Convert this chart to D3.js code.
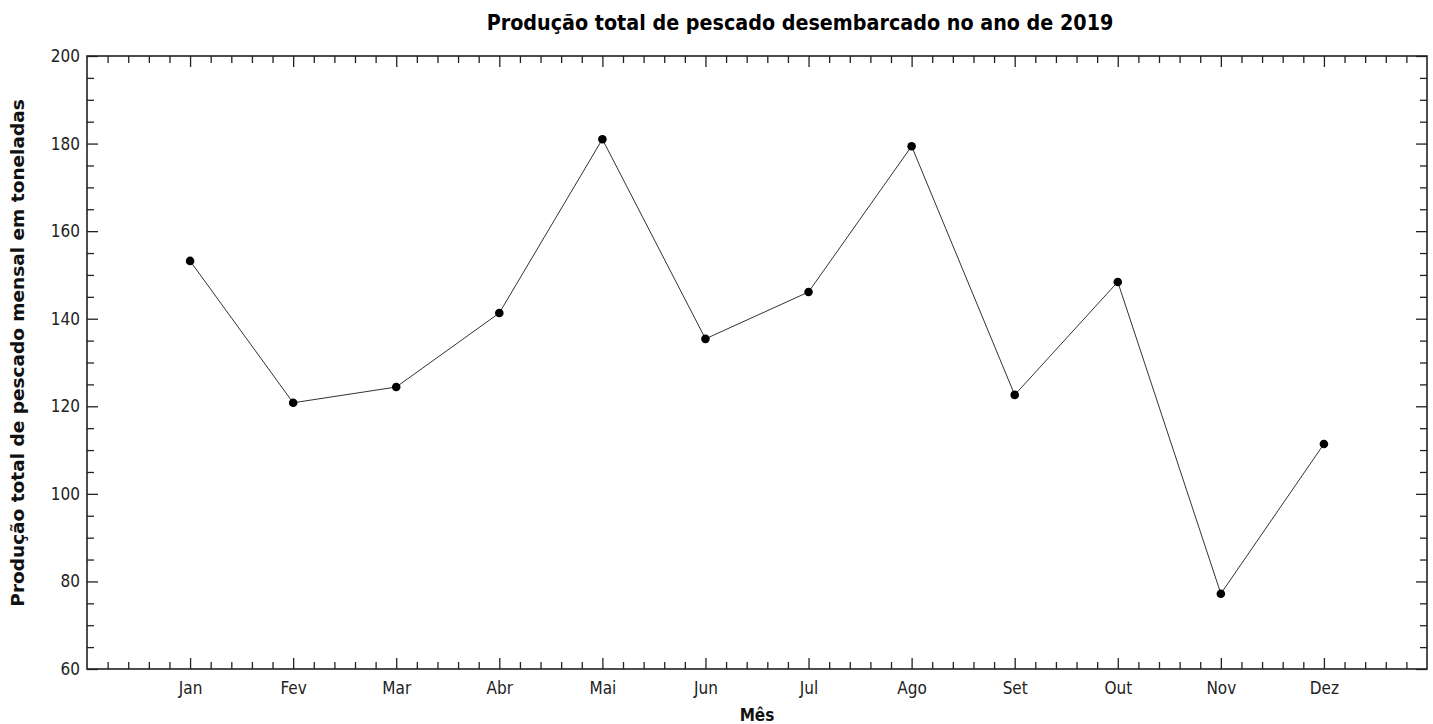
<!DOCTYPE html>
<html>
<head>
<meta charset="utf-8">
<script src="https://cdn.jsdelivr.net/npm/d3@7"></script>
<style>
  body { margin: 0; background: #fff; }
  .tick text { font-family: "DejaVu Sans Condensed", "DejaVu Sans", sans-serif; font-size: 17px; fill: #222; }
</style>
</head>
<body>
<div id="chart"></div>
<script>
var months = ["Jan", "Fev", "Mar", "Abr", "Mai", "Jun", "Jul", "Ago", "Set", "Out", "Nov", "Dez"];
var production = [153.2, 120.8, 124.4, 141.3, 181.0, 135.4, 146.1, 179.4, 122.6, 148.4, 77.2, 111.4];
var yTicks = [60, 80, 100, 120, 140, 160, 180, 200];

var width = 1433,
    height = 724,
    margin = {top: 56, right: 6, bottom: 55, left: 87};

var innerW = width - margin.left - margin.right,
    innerH = height - margin.top - margin.bottom;

var svg = d3.select("#chart")
  .append("svg")
  .attr("width", width)
  .attr("height", height);

var g = svg.append("g")
  .attr("transform", `translate(${margin.left},${margin.top})`);

// x is month index 1..12 inside a 0..13 range
var xScale = d3.scaleLinear().domain([0, 13]).range([0, innerW]);
var yScale = d3.scaleLinear().domain([60, 200]).range([innerH, 0]);

var xMinor = d3.range(0, 65).map(i => i / 5).filter(v => v % 1 !== 0);
var yMinor = d3.range(60, 201, 5).filter(v => v % 20 !== 0);

// major axes
var xAxis = d3.axisBottom(xScale)
  .tickValues(d3.range(1, 13))
  .tickFormat(i => months[i - 1])
  .tickSizeInner(-11).tickSizeOuter(0).tickPadding(13);
var yAxis = d3.axisLeft(yScale)
  .tickValues(yTicks)
  .tickSizeInner(-11).tickSizeOuter(0).tickPadding(7);

g.append("g").attr("class", "x axis")
  .attr("transform", `translate(0,${innerH})`)
  .call(xAxis);
g.append("g").attr("class", "y axis").call(yAxis);

// top / right mirrored ticks
g.append("g").attr("class", "x2 axis")
  .call(d3.axisTop(xScale).tickValues(d3.range(1, 13)).tickSizeInner(-11).tickSizeOuter(0).tickFormat(""));
g.append("g").attr("class", "y2 axis")
  .attr("transform", `translate(${innerW},0)`)
  .call(d3.axisRight(yScale).tickValues(yTicks).tickSizeInner(-11).tickSizeOuter(0).tickFormat(""));

// minor ticks
g.append("g").attr("transform", `translate(0,${innerH})`)
  .call(d3.axisBottom(xScale).tickValues(xMinor).tickSizeInner(-7).tickSizeOuter(0).tickFormat(""));
g.append("g")
  .call(d3.axisTop(xScale).tickValues(xMinor).tickSizeInner(-7).tickSizeOuter(0).tickFormat(""));
g.append("g")
  .call(d3.axisLeft(yScale).tickValues(yMinor).tickSizeInner(-7).tickSizeOuter(0).tickFormat(""));
g.append("g").attr("transform", `translate(${innerW},0)`)
  .call(d3.axisRight(yScale).tickValues(yMinor).tickSizeInner(-7).tickSizeOuter(0).tickFormat(""));

g.selectAll(".domain").remove();
g.selectAll(".tick line").attr("stroke", "#222").attr("stroke-width", 1.3);

// frame
g.append("rect")
  .attr("x", 0).attr("y", 0)
  .attr("width", innerW).attr("height", innerH)
  .attr("fill", "none").attr("stroke", "#222").attr("stroke-width", 1.6);

// line + points
var line = d3.line()
  .x((d, i) => xScale(i + 1))
  .y(d => yScale(d));

g.append("path")
  .datum(production)
  .attr("fill", "none")
  .attr("stroke", "#333")
  .attr("stroke-width", 1)
  .attr("d", line);

g.selectAll(".dot")
  .data(production)
  .enter().append("circle")
  .attr("class", "dot")
  .attr("cx", (d, i) => xScale(i + 1))
  .attr("cy", d => yScale(d))
  .attr("r", 4.3)
  .attr("fill", "#000");

// titles
svg.append("text")
  .attr("x", 800).attr("y", 30)
  .attr("text-anchor", "middle")
  .style("font-family", "'DejaVu Sans Condensed', 'DejaVu Sans', sans-serif")
  .style("font-weight", "bold")
  .style("font-size", "21.3px")
  .attr("fill", "#000")
  .text("Produção total de pescado desembarcado no ano de 2019");

svg.append("text")
  .attr("x", margin.left + innerW / 2).attr("y", 721)
  .attr("text-anchor", "middle")
  .style("font-family", "'DejaVu Sans Condensed', 'DejaVu Sans', sans-serif")
  .style("font-weight", "bold")
  .style("font-size", "17px")
  .attr("fill", "#111")
  .text("Mês");

svg.append("text")
  .attr("transform", `translate(24,${(100 + 606) / 2}) rotate(-90)`)
  .attr("text-anchor", "middle")
  .style("font-family", "'DejaVu Sans', sans-serif")
  .style("font-weight", "bold")
  .style("font-size", "18.5px")
  .attr("fill", "#111")
  .text("Produção total de pescado mensal em toneladas");
</script>
</body>
</html>
